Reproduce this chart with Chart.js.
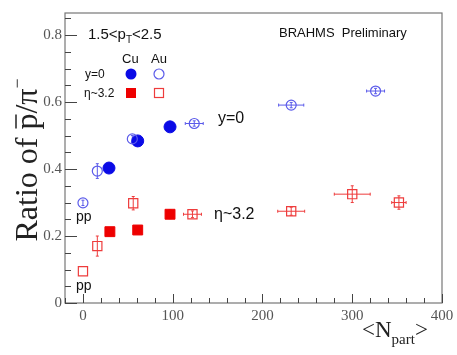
<!DOCTYPE html>
<html>
<head>
<meta charset="utf-8">
<script src="https://cdn.jsdelivr.net/npm/chart.js@4/dist/chart.umd.min.js"></script>
<style>
  body { margin: 0; background: #fff; }
  #wrap { width: 457px; height: 355px; }
</style>
</head>
<body>
<div id="wrap"><canvas id="myChart" width="457" height="355"></canvas></div>
<script>
// values
let cuY_x = [29, 61, 97];
let cuY_y = [0.403, 0.484, 0.526];

let auY_x = [0, 16, 55, 124, 232, 326];
let auY_y = [0.299, 0.394, 0.49, 0.536, 0.591, 0.633];
let auY_xerr = [0, 0, 0, 10, 14, 10];
let auY_yerr = [0.008, 0.022, 0.01, 0.008, 0.008, 0.008];

let cuEta_x = [30, 61, 97];
let cuEta_y = [0.213, 0.218, 0.265];
let cuEta_yerr = [0.012, 0, 0.013];

let auEta_x = [0, 16, 56, 122, 232, 300, 352];
let auEta_y = [0.095, 0.17, 0.298, 0.265, 0.274, 0.325, 0.3];
let auEta_xerr = [0, 0, 0, 10, 15, 20, 8];
let auEta_yerr = [0, 0.03, 0.02, 0.01, 0.012, 0.025, 0.02];

let xTicks = [0, 100, 200, 300, 400];
let yTicks = [0, 0.2, 0.4, 0.6, 0.8];

const BLUE = "#0a0ae6";
const BLUE_L = "#5b5bea";
const RED = "#ee0000";
const RED_L = "#ee3c3c";

toPts = (xs, ys, xe, ye) => xs.map((x, i) => ({ x: x, y: ys[i], xe: xe ? xe[i] : 0, ye: ye ? ye[i] : 0 }));

// error bars drawn through the scales
const errorBars = {
  id: "errorBars",
  beforeDatasetsDraw(chart) {
    const { ctx, scales: { x, y } } = chart;
    ctx.save();
    chart.data.datasets.forEach((ds, di) => {
      ctx.strokeStyle = ds.borderColor;
      ctx.lineWidth = 1;
      ds.data.forEach((p) => {
        let px = x.getPixelForValue(p.x);
        let py = y.getPixelForValue(p.y);
        if (p.xe) {
          let a = x.getPixelForValue(p.x - p.xe), b = x.getPixelForValue(p.x + p.xe);
          ctx.beginPath(); ctx.moveTo(a, py); ctx.lineTo(b, py); ctx.stroke();
          ctx.beginPath(); ctx.moveTo(a, py - 1.5); ctx.lineTo(a, py + 1.5);
          ctx.moveTo(b, py - 1.5); ctx.lineTo(b, py + 1.5); ctx.stroke();
        }
        if (p.ye) {
          let a = y.getPixelForValue(p.y - p.ye), b = y.getPixelForValue(p.y + p.ye);
          ctx.beginPath(); ctx.moveTo(px, a); ctx.lineTo(px, b); ctx.stroke();
          ctx.beginPath(); ctx.moveTo(px - 1.5, a); ctx.lineTo(px + 1.5, a);
          ctx.moveTo(px - 1.5, b); ctx.lineTo(px + 1.5, b); ctx.stroke();
        }
      });
    });
    ctx.restore();
  }
};

// frame, inward ticks, tick labels and texts
const frame = {
  id: "frame",
  afterDraw(chart) {
    const { ctx, chartArea: ca, scales: { x, y } } = chart;
    ctx.save();
    ctx.strokeStyle = "#777";
    ctx.lineWidth = 1.2;
    ctx.strokeRect(ca.left, ca.top, ca.right - ca.left, ca.bottom - ca.top);

    ctx.strokeStyle = "#444";
    ctx.lineWidth = 1;
    for (let v = -20; v <= 400; v += 20) {
      let px = Math.round(x.getPixelForValue(v)) + 0.5;
      let len = v % 100 === 0 ? 9 : 5;
      ctx.beginPath(); ctx.moveTo(px, ca.bottom); ctx.lineTo(px, ca.bottom - len); ctx.stroke();
    }
    for (let i = 0; i <= 17; i++) {
      let v = i * 0.05;
      let py = Math.round(y.getPixelForValue(v)) + 0.5;
      let len = i % 4 === 0 ? 12 : 6;
      ctx.beginPath(); ctx.moveTo(ca.left, py); ctx.lineTo(ca.left + len, py); ctx.stroke();
    }

    ctx.fillStyle = "#555";
    ctx.font = "15px 'Liberation Serif', serif";
    ctx.textAlign = "center";
    ctx.textBaseline = "top";
    xTicks.forEach((v) => ctx.fillText(String(v), x.getPixelForValue(v), ca.bottom + 6));
    ctx.textAlign = "right";
    ctx.textBaseline = "middle";
    yTicks.forEach((v) => ctx.fillText(v === 0 ? "0" : v.toFixed(1), ca.left - 3, y.getPixelForValue(v)));

    // axis titles
    ctx.fillStyle = "#222";
    ctx.font = "23px 'Liberation Serif', serif";
    ctx.textAlign = "left";
    ctx.textBaseline = "alphabetic";
    let tx = 362;
    ctx.fillText("<N", tx, 337);
    let w = ctx.measureText("<N").width;
    ctx.font = "15px 'Liberation Serif', serif";
    ctx.fillText("part", tx + w, 344);
    let w2 = ctx.measureText("part").width;
    ctx.font = "23px 'Liberation Serif', serif";
    ctx.fillText(">", tx + w + w2, 337);

    ctx.save();
    ctx.translate(37, 160);
    ctx.rotate(-Math.PI / 2);
    ctx.font = "32px 'Liberation Serif', serif";
    ctx.textAlign = "left";
    let t1 = "Ratio of p";
    let full = ctx.measureText(t1 + "/π").width + 10;
    let sx = -full / 2;
    ctx.fillText(t1, sx, 0);
    let wt1 = ctx.measureText(t1).width;
    let wp = ctx.measureText("p").width;
    ctx.lineWidth = 1.5;
    ctx.strokeStyle = "#222";
    ctx.beginPath(); ctx.moveTo(sx + wt1 - wp + 1, -21); ctx.lineTo(sx + wt1 - 1, -21); ctx.stroke();
    ctx.fillText("/π", sx + wt1, 0);
    let wpi = ctx.measureText("/π").width;
    ctx.font = "18px 'Liberation Serif', serif";
    ctx.fillText("−", sx + wt1 + wpi, -14);
    ctx.restore();

    // annotations
    ctx.fillStyle = "#111";
    ctx.font = "15px 'Liberation Sans', Arial, sans-serif";
    ctx.textBaseline = "alphabetic";
    ctx.fillText("1.5<p", 88, 39);
    let wpT = ctx.measureText("1.5<p").width;
    ctx.font = "10px 'Liberation Sans', Arial, sans-serif";
    ctx.fillText("T", 88 + wpT, 43);
    ctx.font = "15px 'Liberation Sans', Arial, sans-serif";
    ctx.fillText("<2.5", 88 + wpT + 6, 39);

    ctx.font = "13px 'Liberation Sans', Arial, sans-serif";
    ctx.fillText("BRAHMS  Preliminary", 279, 37);
    ctx.fillText("Cu", 122, 63);
    ctx.fillText("Au", 151, 63);
    ctx.font = "12px 'Liberation Sans', Arial, sans-serif";
    ctx.fillText("y=0", 85, 78);
    ctx.fillText("η~3.2", 84, 97);

    ctx.font = "16px 'Liberation Sans', Arial, sans-serif";
    ctx.fillText("y=0", 218, 123);
    ctx.fillText("η~3.2", 214, 219);
    ctx.font = "14px 'Liberation Sans', Arial, sans-serif";
    ctx.fillText("pp", 76, 221);
    ctx.fillText("pp", 76, 290);

    // legend markers
    ctx.fillStyle = BLUE;
    ctx.beginPath(); ctx.arc(131, 74, 5.5, 0, Math.PI * 2); ctx.fill();
    ctx.strokeStyle = BLUE_L; ctx.lineWidth = 1.2;
    ctx.beginPath(); ctx.arc(159, 74, 5, 0, Math.PI * 2); ctx.stroke();
    ctx.fillStyle = RED;
    ctx.fillRect(126, 88, 10, 10);
    ctx.strokeStyle = RED_L;
    ctx.strokeRect(154.5, 88.5, 9, 9);
    ctx.restore();
  }
};

onWindowLoad = () => {
  let ctx = document.getElementById("myChart").getContext("2d");
  new Chart(ctx, {
    type: "scatter",
    data: {
      datasets: [
        {
          label: "Au y=0",
          data: toPts(auY_x, auY_y, auY_xerr, auY_yerr),
          pointStyle: "circle", pointRadius: 5,
          backgroundColor: "rgba(0,0,0,0)", borderColor: BLUE_L, borderWidth: 1.2
        },
        {
          label: "Cu y=0",
          data: toPts(cuY_x, cuY_y),
          pointStyle: "circle", pointRadius: 6,
          backgroundColor: BLUE, borderColor: BLUE, borderWidth: 1
        },
        {
          label: "Au eta",
          data: toPts(auEta_x, auEta_y, auEta_xerr, auEta_yerr),
          pointStyle: "rect", pointRadius: 6.5,
          backgroundColor: "rgba(0,0,0,0)", borderColor: RED_L, borderWidth: 1.2
        },
        {
          label: "Cu eta",
          data: toPts(cuEta_x, cuEta_y, null, cuEta_yerr),
          pointStyle: "rect", pointRadius: 7,
          backgroundColor: RED, borderColor: RED, borderWidth: 1
        }
      ]
    },
    options: {
      responsive: false,
      animation: false,
      layout: { padding: { left: 65, right: 15, top: 13, bottom: 52 } },
      plugins: { legend: { display: false }, tooltip: { enabled: false } },
      scales: {
        x: { type: "linear", min: -20, max: 400, display: false },
        y: { type: "linear", min: 0, max: 0.866, display: false }
      }
    },
    plugins: [errorBars, frame]
  });
};

window.onload = onWindowLoad;
</script>
</body>
</html>
